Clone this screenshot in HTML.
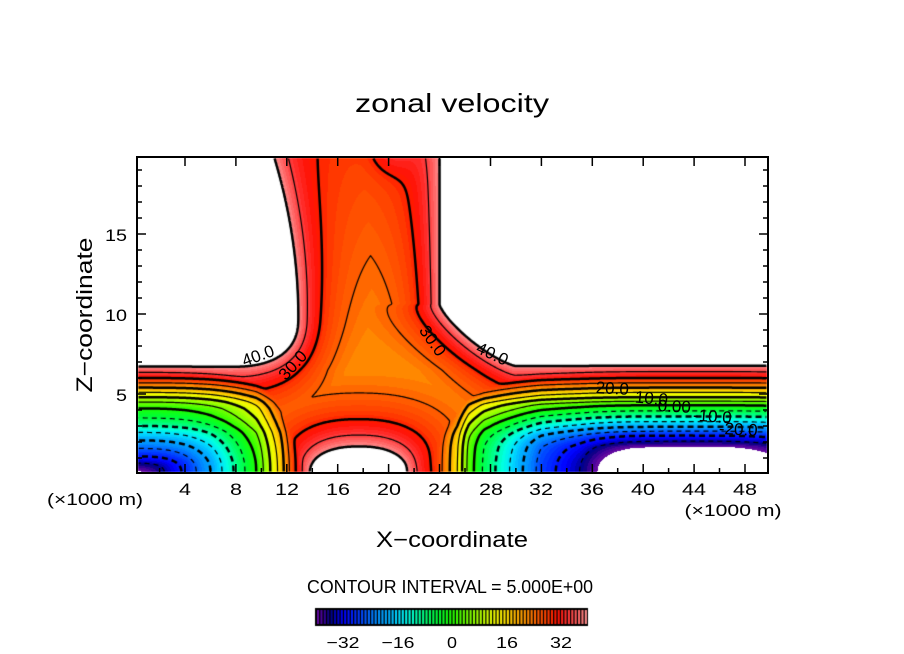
<!DOCTYPE html>
<html><head><meta charset="utf-8">
<style>
html,body{margin:0;padding:0;background:#fff;}
#wrap{position:relative;width:904px;height:654px;overflow:hidden;background:#fff;}
canvas,svg{position:absolute;left:0;top:0;}
text{font-family:"Liberation Sans",sans-serif;fill:#000;}
</style></head><body>
<div id="wrap">
<canvas id="c" width="904" height="654"></canvas>
<svg width="904" height="654" viewBox="0 0 904 654">
<rect x="137" y="157" width="631" height="316" fill="none" stroke="#000" stroke-width="2"/>
<g stroke="#000" stroke-width="1.5" fill="none">
<path d="M185,472V464M235.9,472V464M286.8,472V464M337.7,472V464M388.6,472V464M439.5,472V464M490.5,472V464M541.4,472V464M592.3,472V464M643.2,472V464M694.1,472V464M745,472V464"/>
<path d="M159.6,472V468M210.5,472V468M261.4,472V468M312.3,472V468M363.2,472V468M414.1,472V468M465,472V468M515.9,472V468M566.8,472V468M617.7,472V468M668.6,472V468M719.5,472V468"/>
<path d="M185,158V166M235.9,158V166M286.8,158V166M337.7,158V166M388.6,158V166M439.5,158V166M490.5,158V166M541.4,158V166M592.3,158V166M643.2,158V166M694.1,158V166M745,158V166"/>
<path d="M138,394H146M138,314H146M138,234H146M767,394H759M767,314H759M767,234H759"/>
<path d="M138,458H142M138,442H142M138,426H142M138,410H142M138,378H142M138,362H142M138,346H142M138,330H142M138,298H142M138,282H142M138,266H142M138,250H142M138,218H142M138,202H142M138,186H142M138,170H142"/>
<path d="M767,458H763M767,442H763M767,426H763M767,410H763M767,378H763M767,362H763M767,346H763M767,330H763M767,298H763M767,282H763M767,266H763M767,250H763M767,218H763M767,202H763M767,186H763M767,170H763"/>
</g>
<text x="452" y="112" font-size="26" text-anchor="middle" textLength="194" lengthAdjust="spacingAndGlyphs">zonal velocity</text>
<g font-size="17" text-anchor="middle">
<text x="185" y="495" textLength="12" lengthAdjust="spacingAndGlyphs">4</text>
<text x="236" y="495" textLength="12" lengthAdjust="spacingAndGlyphs">8</text>
<text x="287" y="495" textLength="24" lengthAdjust="spacingAndGlyphs">12</text>
<text x="338" y="495" textLength="24" lengthAdjust="spacingAndGlyphs">16</text>
<text x="389" y="495" textLength="24" lengthAdjust="spacingAndGlyphs">20</text>
<text x="440" y="495" textLength="24" lengthAdjust="spacingAndGlyphs">24</text>
<text x="491" y="495" textLength="24" lengthAdjust="spacingAndGlyphs">28</text>
<text x="541" y="495" textLength="24" lengthAdjust="spacingAndGlyphs">32</text>
<text x="592" y="495" textLength="24" lengthAdjust="spacingAndGlyphs">36</text>
<text x="643" y="495" textLength="24" lengthAdjust="spacingAndGlyphs">40</text>
<text x="694" y="495" textLength="24" lengthAdjust="spacingAndGlyphs">44</text>
<text x="745" y="495" textLength="24" lengthAdjust="spacingAndGlyphs">48</text>
<text x="95" y="505" textLength="96" lengthAdjust="spacingAndGlyphs">(×1000 m)</text>
<text x="733" y="516" textLength="97" lengthAdjust="spacingAndGlyphs">(×1000 m)</text>
</g>
<g font-size="17" text-anchor="end">
<text x="127" y="241" textLength="22" lengthAdjust="spacingAndGlyphs">15</text>
<text x="127" y="321" textLength="22" lengthAdjust="spacingAndGlyphs">10</text>
<text x="127" y="401" textLength="11" lengthAdjust="spacingAndGlyphs">5</text>
</g>
<text x="452" y="547" font-size="22" text-anchor="middle" textLength="152" lengthAdjust="spacingAndGlyphs">X−coordinate</text>
<text transform="translate(92,315) rotate(-90)" font-size="22" text-anchor="middle" textLength="155" lengthAdjust="spacingAndGlyphs">Z−coordinate</text>
<text x="450" y="593" font-size="18" text-anchor="middle" textLength="286" lengthAdjust="spacingAndGlyphs">CONTOUR INTERVAL = 5.000E+00</text>
<g font-size="16" text-anchor="middle">
<text x="343" y="648" textLength="33" lengthAdjust="spacingAndGlyphs">−32</text>
<text x="398" y="648" textLength="33" lengthAdjust="spacingAndGlyphs">−16</text>
<text x="452" y="648" textLength="10" lengthAdjust="spacingAndGlyphs">0</text>
<text x="507" y="648" textLength="22" lengthAdjust="spacingAndGlyphs">16</text>
<text x="561" y="648" textLength="22" lengthAdjust="spacingAndGlyphs">32</text>
</g>
<g font-size="17" text-anchor="middle">
<text transform="translate(260,361) rotate(-20)">40.0</text>
<text transform="translate(297,369) rotate(-48)">30.0</text>
<text transform="translate(428,344) rotate(55)">30.0</text>
<text transform="translate(490,359) rotate(25)">40.0</text>
<text transform="translate(612,394) rotate(3)">20.0</text>
<text transform="translate(651,404) rotate(5)">10.0</text>
<text transform="translate(674,412) rotate(3)">0.00</text>
<text transform="translate(712,422) rotate(4)">-10.0</text>
<text transform="translate(738,435) rotate(3)">-20.0</text>
</g>
</svg>
</div>
<script>
(function(){
const cv=document.getElementById('c');const ctx=cv.getContext('2d');
function lt(t,v){if(v<=t[0][0])return t[0][1];for(let i=1;i<t.length;i++){if(v<=t[i][0]){const a=t[i-1],b=t[i];return a[1]+(b[1]-a[1])*(v-a[0])/(b[0]-a[0]);}}return t[t.length-1][1];}
const AL=[[0,-42],[2,-36.5],[4,-29],[6,-20],[8,-9],[9.6,0],[10.7,10],[11.5,17],[12.1,24],[13,33],[13.7,40],[15,52],[20,60],[60,60]];
const HL=[[0,-42],[0.6,-36],[1.1,-30],[1.6,-25],[2.1,-20],[2.6,-15],[3.0,-10],[3.5,-5],[4.1,0],[4.5,5],[4.8,10],[5.1,15],[5.4,20],[5.7,25],[6.0,30],[6.35,35],[6.7,40],[7.5,55],[10,100],[25,200]];
const AR=[[0,60],[14,60],[20,50],[21.5,40],[22.5,35],[23.6,30],[24.2,25],[25.4,15],[26.3,3],[27.5,-6],[29.5,-15],[32,-27],[35,-35],[36.4,-40],[39,-48],[43,-55],[46,-53],[50,-43],[51,-41]];
const HR=[[0,-55],[0.8,-48],[1.7,-40],[2.4,-30],[2.95,-20],[3.6,-10],[4.3,0],[4.8,10],[5.4,20],[6.0,30],[6.4,35],[6.75,40],[7.5,55],[10,100],[25,200]];
function pn(a,b,p){return Math.pow(Math.pow(a,p)+Math.pow(b,p),1/p);}
function uL(x,z){const m=-42;return m+pn(Math.max(0,lt(AL,x)-m),Math.max(0,lt(HL,z)-m),2.5);}
function uR(x,z){const m=-55;return m+pn(Math.max(0,lt(AR,x)-m),Math.max(0,lt(HR,z)-m),2.5);}
function seDist(dx,dz,a,b,q){
  const u=Math.max(dx/a,0),v=Math.max(dz/b,0);
  const rho=Math.pow(Math.pow(u,q)+Math.pow(v,q),1/q);
  if(rho<1e-4)return -Math.min(a,b);
  const f=Math.pow(rho,1-q);
  const gx=f*Math.pow(u,q-1)/a,gz=f*Math.pow(v,q-1)/b;
  const g=Math.hypot(gx,gz)||1e-6;
  return (rho-1)/g;
}
function Ledge(z){return z<=9.8?12.9:12.9-0.019*(z-9.8)*(z-9.8);}
function dWL(x,z){const a=5.4,b=3.1,Cx=7.5,Cz=9.8;
  if(z>=Cz)return x-Ledge(z);
  if(x<=Cx)return 6.7-z;
  return seDist(x-Cx,Cz-z,a,b,2.5);}
function dWR(x,z){const a=6,b=3.85,Cx=30,Cz=10.6;
  if(z>=Cz)return 24.0-x;
  if(x>=Cx)return 6.75-z;
  return seDist(Cx-x,Cz-z,a,b,1.3);}
function dBlob(x,z){return seDist(Math.abs(x-17.65),Math.abs(z),3.85,1.72,2.3);}
function cz(z){return z>=6.5?20.0+0.55*(z-6.5):20.0+0.3*(6.5-z);}
function core(x,z){
  const s=Math.min(dWL(x,z)/2.2,dWR(x,z)/2.0,dBlob(x,z)/2.3);
  const c=cz(z);
  let u=s<0?40-s*25:c+(40-c)*Math.exp(-s);
  u+=4.5*Math.exp(-(((x-20.3)/1.7)**2+((z-20.3)/1.5)**2));
  return u;}
function smin(a,b,k){const h=Math.max(k-Math.abs(a-b),0)/k;return Math.min(a,b)-h*h*k*0.25;}
function field(x,z){return smin(smin(uL(x,z),uR(x,z),1.5),core(x,z),1.5);}
const CM=[[-40,[106,10,160]],[-38,[64,0,154]],[-36,[0,0,128]],[-32,[0,0,255]],[-28,[0,48,255]],[-25,[0,96,255]],[-22,[0,144,255]],[-18.5,[0,176,255]],[-15.5,[0,224,255]],[-12.5,[0,255,224]],[-9.7,[0,255,160]],[-6.8,[0,255,96]],[-3.8,[0,255,48]],[0,[32,255,0]],[3.5,[96,255,0]],[6.5,[144,255,0]],[9.4,[192,255,0]],[12.5,[240,250,0]],[15.5,[255,230,0]],[19,[255,176,0]],[22,[255,144,0]],[25,[255,96,0]],[28,[255,64,0]],[31,[255,16,0]],[34,[255,48,48]],[37,[255,96,96]],[40,[255,150,150]]];
function cmap(v){if(v<=CM[0][0])return CM[0][1];for(let i=1;i<CM.length;i++){if(v<=CM[i][0]){const a=CM[i-1],b=CM[i],t=(v-a[0])/(b[0]-a[0]);return [0,1,2].map(k=>Math.round(a[1][k]+(b[1][k]-a[1][k])*t));}}return CM[CM.length-1][1];}
const bins=[];for(let k=0;k<80;k++)bins.push(cmap(-40+k+0.5));
const OX=138,OY=158,W=629,H=314;
const F=new Float32Array(W*H);
const img=ctx.createImageData(W,H);const d=img.data;
for(let j=0;j<H;j++){const Z=(474-(OY+j+0.5))/16;
  for(let i=0;i<W;i++){const X=(OX+i+0.5-134.1)/12.727;
    const u=field(X,Z);F[j*W+i]=u;const p=4*(j*W+i);
    if(u>=40||u<-40){d[p]=255;d[p+1]=255;d[p+2]=255;}
    else{const c=bins[Math.floor(u+40)];d[p]=c[0];d[p+1]=c[1];d[p+2]=c[2];}
    d[p+3]=255;}}
ctx.putImageData(img,OX,OY);
function trace(level){
  const NH=(W-1)*H,NV=W*(H-1),N=NH+NV;
  const nb=new Int32Array(2*N).fill(-1);const ex=new Float32Array(N),ey=new Float32Array(N);
  const link=(a,b)=>{if(nb[2*a]<0)nb[2*a]=b;else nb[2*a+1]=b;if(nb[2*b]<0)nb[2*b]=a;else nb[2*b+1]=a;};
  for(let j=0;j<H-1;j++){for(let i=0;i<W-1;i++){
    const a=F[j*W+i],b=F[j*W+i+1],c=F[(j+1)*W+i+1],e=F[(j+1)*W+i];
    const A=a>level,B_=b>level,C=c>level,D=e>level;
    const idx=(A?1:0)|(B_?2:0)|(C?4:0)|(D?8:0);
    if(idx===0||idx===15)continue;
    const T=j*(W-1)+i,Bo=(j+1)*(W-1)+i,L=NH+j*W+i,R=NH+j*W+i+1;
    if(A!==B_){ex[T]=i+(level-a)/(b-a);ey[T]=j;}
    if(D!==C){ex[Bo]=i+(level-e)/(c-e);ey[Bo]=j+1;}
    if(A!==D){ex[L]=i;ey[L]=j+(level-a)/(e-a);}
    if(B_!==C){ex[R]=i+1;ey[R]=j+(level-b)/(c-b);}
    switch(idx){
      case 1:case 14:link(L,T);break;
      case 2:case 13:link(T,R);break;
      case 3:case 12:link(L,R);break;
      case 4:case 11:link(R,Bo);break;
      case 6:case 9:link(T,Bo);break;
      case 7:case 8:link(L,Bo);break;
      case 5:link(L,T);link(R,Bo);break;
      case 10:link(T,R);link(L,Bo);break;}
  }}
  const used=new Uint8Array(N);const lines=[];
  const walk=s=>{const pts=[s];used[s]=1;let cur=s;while(true){let n=nb[2*cur];if(n<0||used[n]){n=nb[2*cur+1];if(n<0||used[n])break;}used[n]=1;pts.push(n);cur=n;}return pts;};
  for(let e=0;e<N;e++){if(!used[e]&&nb[2*e]>=0&&nb[2*e+1]<0)lines.push([walk(e),false]);}
  for(let e=0;e<N;e++){if(!used[e]&&nb[2*e]>=0)lines.push([walk(e),true]);}
  return {lines,ex,ey};
}
ctx.save();ctx.beginPath();ctx.rect(OX,OY,W,H);ctx.clip();
ctx.strokeStyle='#000';ctx.lineJoin='round';ctx.lineCap='butt';
for(let lv=-35;lv<=40;lv+=5){
  const r=trace(lv);const bold=(lv%10===0);
  ctx.lineWidth=bold?2.5:1.2;
  ctx.setLineDash(lv<0?(bold?[6,4]:[5,4]):[]);
  for(const [pts,closed] of r.lines){
    if(pts.length<3)continue;
    ctx.beginPath();
    ctx.moveTo(OX+r.ex[pts[0]]+0.5,OY+r.ey[pts[0]]+0.5);
    for(let k=1;k<pts.length;k++)ctx.lineTo(OX+r.ex[pts[k]]+0.5,OY+r.ey[pts[k]]+0.5);
    if(closed)ctx.closePath();
    ctx.stroke();
  }
}
ctx.restore();ctx.setLineDash([]);
ctx.fillStyle='#000';ctx.fillRect(315,608,273,18);
for(let k=0;k<80;k++){const c=bins[k];ctx.fillStyle='rgb('+c[0]+','+c[1]+','+c[2]+')';ctx.fillRect(317+k*3.39,610,2.1,14);}
})();
</script>
</body></html>
